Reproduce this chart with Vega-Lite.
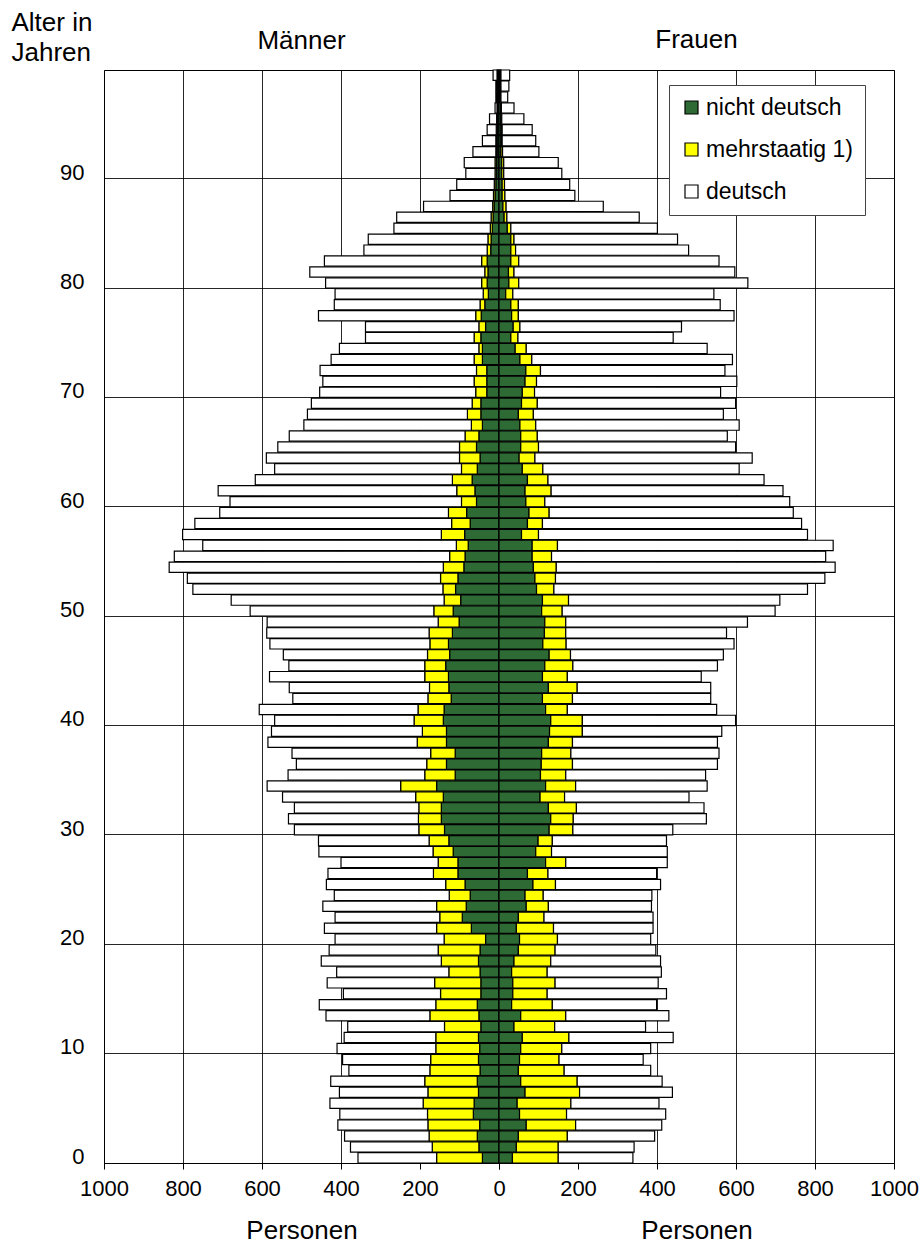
{
  "$schema": "https://vega.github.io/schema/vega-lite/v6.json",
  "background": "white",
  "padding": {"left": 10, "top": 8, "right": 2, "bottom": 2},
  "spacing": 0,
  "bounds": "flush",
  "config": {
    "font": "Liberation Sans",
    "view": {"stroke": "black", "strokeWidth": 1},
    "axis": {"labelFontSize": 22, "titleFontSize": 26, "labelColor": "black", "titleColor": "black", "titleFontWeight": "normal", "gridColor": "black", "gridOpacity": 0.85, "gridWidth": 1, "domainColor": "black", "tickColor": "black"},
    "title": {"fontSize": 26, "fontWeight": "normal", "color": "black"},
    "bar": {"stroke": "black", "strokeWidth": 1.2}
  },
  "datasets": {
    "maenner": [
      {"a":0,"n":42,"m":116,"d":199},{"a":1,"n":51,"m":118,"d":207},{"a":2,"n":55,"m":122,"d":214},{"a":3,"n":49,"m":131,"d":228},{"a":4,"n":65,"m":116,"d":222},
      {"a":5,"n":63,"m":129,"d":236},{"a":6,"n":52,"m":128,"d":224},{"a":7,"n":55,"m":133,"d":238},{"a":8,"n":48,"m":127,"d":205},{"a":9,"n":52,"m":121,"d":223},
      {"a":10,"n":49,"m":111,"d":250},{"a":11,"n":52,"m":108,"d":232},{"a":12,"n":46,"m":92,"d":245},{"a":13,"n":51,"m":124,"d":263},{"a":14,"n":55,"m":105,"d":295},
      {"a":15,"n":46,"m":102,"d":246},{"a":16,"n":46,"m":117,"d":272},{"a":17,"n":48,"m":79,"d":284},{"a":18,"n":52,"m":94,"d":304},{"a":19,"n":48,"m":106,"d":276},
      {"a":20,"n":34,"m":105,"d":276},{"a":21,"n":70,"m":88,"d":284},{"a":22,"n":93,"m":57,"d":265},{"a":23,"n":83,"m":75,"d":288},{"a":24,"n":73,"m":53,"d":291},
      {"a":25,"n":86,"m":49,"d":302},{"a":26,"n":104,"m":62,"d":267},{"a":27,"n":104,"m":50,"d":246},{"a":28,"n":116,"m":51,"d":289},{"a":29,"n":127,"m":50,"d":280},
      {"a":30,"n":138,"m":65,"d":315},{"a":31,"n":146,"m":58,"d":329},{"a":32,"n":146,"m":57,"d":315},{"a":33,"n":141,"m":70,"d":337},{"a":34,"n":158,"m":91,"d":338},
      {"a":35,"n":111,"m":77,"d":346},{"a":36,"n":133,"m":50,"d":330},{"a":37,"n":111,"m":62,"d":351},{"a":38,"n":133,"m":74,"d":378},{"a":39,"n":133,"m":61,"d":382},
      {"a":40,"n":141,"m":74,"d":353},{"a":41,"n":139,"m":66,"d":402},{"a":42,"n":121,"m":59,"d":342},{"a":43,"n":127,"m":49,"d":355},{"a":44,"n":128,"m":60,"d":393},
      {"a":45,"n":135,"m":53,"d":344},{"a":46,"n":125,"m":56,"d":365},{"a":47,"n":128,"m":47,"d":405},{"a":48,"n":118,"m":59,"d":411},{"a":49,"n":101,"m":53,"d":433},
      {"a":50,"n":116,"m":49,"d":465},{"a":51,"n":97,"m":42,"d":539},{"a":52,"n":110,"m":32,"d":633},{"a":53,"n":104,"m":44,"d":641},{"a":54,"n":89,"m":52,"d":694},
      {"a":55,"n":86,"m":39,"d":697},{"a":56,"n":78,"m":30,"d":642},{"a":57,"n":87,"m":59,"d":655},{"a":58,"n":73,"m":47,"d":650},{"a":59,"n":82,"m":46,"d":579},
      {"a":60,"n":57,"m":38,"d":586},{"a":61,"n":61,"m":46,"d":604},{"a":62,"n":68,"m":50,"d":499},{"a":63,"n":55,"m":40,"d":473},{"a":64,"n":48,"m":52,"d":489},
      {"a":65,"n":57,"m":43,"d":460},{"a":66,"n":51,"m":35,"d":445},{"a":67,"n":42,"m":28,"d":424},{"a":68,"n":46,"m":34,"d":405},{"a":69,"n":46,"m":22,"d":407},
      {"a":70,"n":31,"m":28,"d":395},{"a":71,"n":31,"m":32,"d":383},{"a":72,"n":31,"m":26,"d":396},{"a":73,"n":42,"m":21,"d":362},{"a":74,"n":42,"m":9,"d":353},
      {"a":75,"n":46,"m":17,"d":275},{"a":76,"n":34,"m":17,"d":287},{"a":77,"n":45,"m":14,"d":398},{"a":78,"n":36,"m":12,"d":369},{"a":79,"n":27,"m":13,"d":375},
      {"a":80,"n":30,"m":14,"d":395},{"a":81,"n":28,"m":8,"d":443},{"a":82,"n":30,"m":14,"d":398},{"a":83,"n":21,"m":9,"d":312},{"a":84,"n":20,"m":8,"d":303},
      {"a":85,"n":17,"m":5,"d":244},{"a":86,"n":15,"m":5,"d":239},{"a":87,"n":12,"m":4,"d":175},{"a":88,"n":10,"m":4,"d":110},{"a":89,"n":8,"m":4,"d":95},
      {"a":90,"n":6,"m":4,"d":74},{"a":91,"n":6,"m":4,"d":78},{"a":92,"n":5,"m":3,"d":58},{"a":93,"n":5,"m":3,"d":34},{"a":94,"n":4,"m":3,"d":23},
      {"a":95,"n":4,"m":2,"d":18},{"a":96,"n":3,"m":2,"d":5},{"a":97,"n":3,"m":2,"d":3},{"a":98,"n":3,"m":2,"d":3},{"a":99,"n":3,"m":2,"d":10}
    ],
    "frauen": [
      {"a":0,"n":34,"m":116,"d":189},{"a":1,"n":44,"m":106,"d":192},{"a":2,"n":49,"m":124,"d":221},{"a":3,"n":69,"m":125,"d":218},{"a":4,"n":52,"m":119,"d":251},
      {"a":5,"n":46,"m":136,"d":223},{"a":6,"n":66,"m":138,"d":235},{"a":7,"n":55,"m":143,"d":215},{"a":8,"n":49,"m":116,"d":219},{"a":9,"n":52,"m":100,"d":213},
      {"a":10,"n":55,"m":104,"d":225},{"a":11,"n":59,"m":118,"d":264},{"a":12,"n":38,"m":103,"d":230},{"a":13,"n":55,"m":114,"d":261},{"a":14,"n":32,"m":103,"d":264},
      {"a":15,"n":35,"m":87,"d":302},{"a":16,"n":35,"m":107,"d":261},{"a":17,"n":32,"m":90,"d":289},{"a":18,"n":38,"m":93,"d":278},{"a":19,"n":49,"m":93,"d":255},
      {"a":20,"n":52,"m":96,"d":236},{"a":21,"n":44,"m":94,"d":252},{"a":22,"n":49,"m":65,"d":276},{"a":23,"n":69,"m":56,"d":261},{"a":24,"n":66,"m":46,"d":275},
      {"a":25,"n":86,"m":57,"d":266},{"a":26,"n":72,"m":52,"d":275},{"a":27,"n":118,"m":51,"d":257},{"a":28,"n":93,"m":40,"d":293},{"a":29,"n":99,"m":36,"d":289},
      {"a":30,"n":127,"m":60,"d":253},{"a":31,"n":131,"m":57,"d":337},{"a":32,"n":125,"m":71,"d":323},{"a":33,"n":104,"m":62,"d":315},{"a":34,"n":118,"m":76,"d":333},
      {"a":35,"n":105,"m":64,"d":354},{"a":36,"n":107,"m":79,"d":367},{"a":37,"n":108,"m":74,"d":375},{"a":38,"n":125,"m":61,"d":367},{"a":39,"n":128,"m":83,"d":353},
      {"a":40,"n":131,"m":80,"d":388},{"a":41,"n":118,"m":55,"d":378},{"a":42,"n":110,"m":76,"d":350},{"a":43,"n":125,"m":73,"d":338},{"a":44,"n":110,"m":63,"d":339},
      {"a":45,"n":116,"m":71,"d":366},{"a":46,"n":127,"m":54,"d":387},{"a":47,"n":111,"m":59,"d":425},{"a":48,"n":115,"m":54,"d":407},{"a":49,"n":116,"m":53,"d":460},
      {"a":50,"n":108,"m":52,"d":539},{"a":51,"n":110,"m":66,"d":535},{"a":52,"n":95,"m":44,"d":642},{"a":53,"n":91,"m":52,"d":682},{"a":54,"n":87,"m":58,"d":706},
      {"a":55,"n":84,"m":49,"d":694},{"a":56,"n":84,"m":64,"d":698},{"a":57,"n":57,"m":43,"d":681},{"a":58,"n":72,"m":38,"d":656},{"a":59,"n":76,"m":51,"d":618},
      {"a":60,"n":68,"m":48,"d":620},{"a":61,"n":66,"m":66,"d":587},{"a":62,"n":72,"m":52,"d":547},{"a":63,"n":59,"m":52,"d":497},{"a":64,"n":51,"m":40,"d":550},
      {"a":65,"n":55,"m":45,"d":499},{"a":66,"n":55,"m":42,"d":481},{"a":67,"n":53,"m":40,"d":515},{"a":68,"n":49,"m":38,"d":481},{"a":69,"n":57,"m":40,"d":502},
      {"a":70,"n":59,"m":31,"d":471},{"a":71,"n":66,"m":29,"d":507},{"a":72,"n":68,"m":37,"d":467},{"a":73,"n":53,"m":30,"d":508},{"a":74,"n":41,"m":28,"d":458},
      {"a":75,"n":30,"m":18,"d":393},{"a":76,"n":36,"m":17,"d":409},{"a":77,"n":32,"m":17,"d":546},{"a":78,"n":30,"m":19,"d":511},{"a":79,"n":17,"m":18,"d":509},
      {"a":80,"n":25,"m":25,"d":580},{"a":81,"n":24,"m":14,"d":559},{"a":82,"n":30,"m":20,"d":507},{"a":83,"n":30,"m":12,"d":438},{"a":84,"n":30,"m":8,"d":414},
      {"a":85,"n":21,"m":9,"d":371},{"a":86,"n":13,"m":7,"d":335},{"a":87,"n":10,"m":8,"d":246},{"a":88,"n":8,"m":7,"d":177},{"a":89,"n":8,"m":6,"d":165},
      {"a":90,"n":7,"m":5,"d":147},{"a":91,"n":7,"m":5,"d":138},{"a":92,"n":5,"m":4,"d":92},{"a":93,"n":5,"m":3,"d":85},{"a":94,"n":5,"m":3,"d":76},
      {"a":95,"n":4,"m":3,"d":56},{"a":96,"n":4,"m":2,"d":32},{"a":97,"n":3,"m":2,"d":17},{"a":98,"n":3,"m":2,"d":20},{"a":99,"n":3,"m":2,"d":22}
    ]
  },
  "resolve": {"scale": {"x": "independent", "y": "independent", "color": "independent"}, "legend": {"color": "independent"}},
  "hconcat": [
    {
      "width": 395,
      "height": 1093,
      "data": {"name": "maenner"},
      "title": {"text": "Männer", "offset": -45},
      "transform": [{"fold": ["n", "m", "d"], "as": ["k", "v"]}],
      "mark": {"type": "bar"},
      "encoding": {
        "y": {
          "field": "a", "type": "ordinal", "sort": "descending",
          "scale": {"paddingInner": 0.06, "paddingOuter": 0},
          "axis": {"values": [0, 10, 20, 30, 40, 50, 60, 70, 80, 90], "bandPosition": 1, "grid": true, "ticks": false, "domain": false, "labelPadding": 20, "labelAngle": 0, "labelBaseline": "middle", "labelOffset": -1,
                   "title": ["Alter in", "Jahren"], "titleAngle": 0, "titleAlign": "left", "titleBaseline": "top", "titleX": -93, "titleY": -61, "titleLineHeight": 30}
        },
        "x": {
          "field": "v", "type": "quantitative", "stack": "zero",
          "scale": {"domain": [0, 1000], "reverse": true, "nice": false},
          "axis": {"values": [0, 200, 400, 600, 800, 1000], "format": "d", "labelFlush": false, "grid": true, "tickSize": 6, "labelPadding": 9, "title": "Personen", "titlePadding": 18}
        },
        "color": {"field": "k", "type": "nominal", "scale": {"domain": ["n", "m", "d"], "range": ["#2D6A34", "#FFFF00", "#FFFFFF"]}, "legend": null},
        "order": {"field": "k", "sort": "descending"}
      }
    },
    {
      "width": 395,
      "height": 1093,
      "data": {"name": "frauen"},
      "title": {"text": "Frauen", "offset": 16},
      "transform": [{"fold": ["n", "m", "d"], "as": ["k", "v"]}],
      "mark": {"type": "bar"},
      "encoding": {
        "y": {
          "field": "a", "type": "ordinal", "sort": "descending",
          "scale": {"paddingInner": 0.06, "paddingOuter": 0},
          "axis": {"values": [0, 10, 20, 30, 40, 50, 60, 70, 80, 90], "bandPosition": 1, "grid": true, "ticks": false, "labels": false, "domain": true, "domainWidth": 2, "title": null}
        },
        "x": {
          "field": "v", "type": "quantitative", "stack": "zero",
          "scale": {"domain": [0, 1000], "nice": false},
          "axis": {"values": [0, 200, 400, 600, 800, 1000], "format": "d", "labelFlush": false, "grid": true, "tickSize": 6, "labelPadding": 9, "labelExpr": "datum.value == 0 ? '' : datum.label", "title": "Personen", "titlePadding": 18}
        },
        "color": {
          "field": "k", "type": "nominal",
          "scale": {"domain": ["n", "m", "d"], "range": ["#2D6A34", "#FFFF00", "#FFFFFF"]},
          "legend": {"orient": "none", "legendX": 170, "legendY": 15, "title": null, "fillColor": "white", "strokeColor": "#444444", "padding": 11,
                     "symbolType": "square", "symbolSize": 169, "symbolStrokeColor": "black", "symbolStrokeWidth": 1, "symbolOpacity": 1,
                     "labelFontSize": 23, "labelColor": "black", "labelOffset": 3, "rowPadding": 18,
                     "labelExpr": "datum.label == 'n' ? 'nicht deutsch' : datum.label == 'm' ? 'mehrstaatig 1)' : 'deutsch'"}
        },
        "order": {"field": "k", "sort": "descending"}
      }
    }
  ]
}
